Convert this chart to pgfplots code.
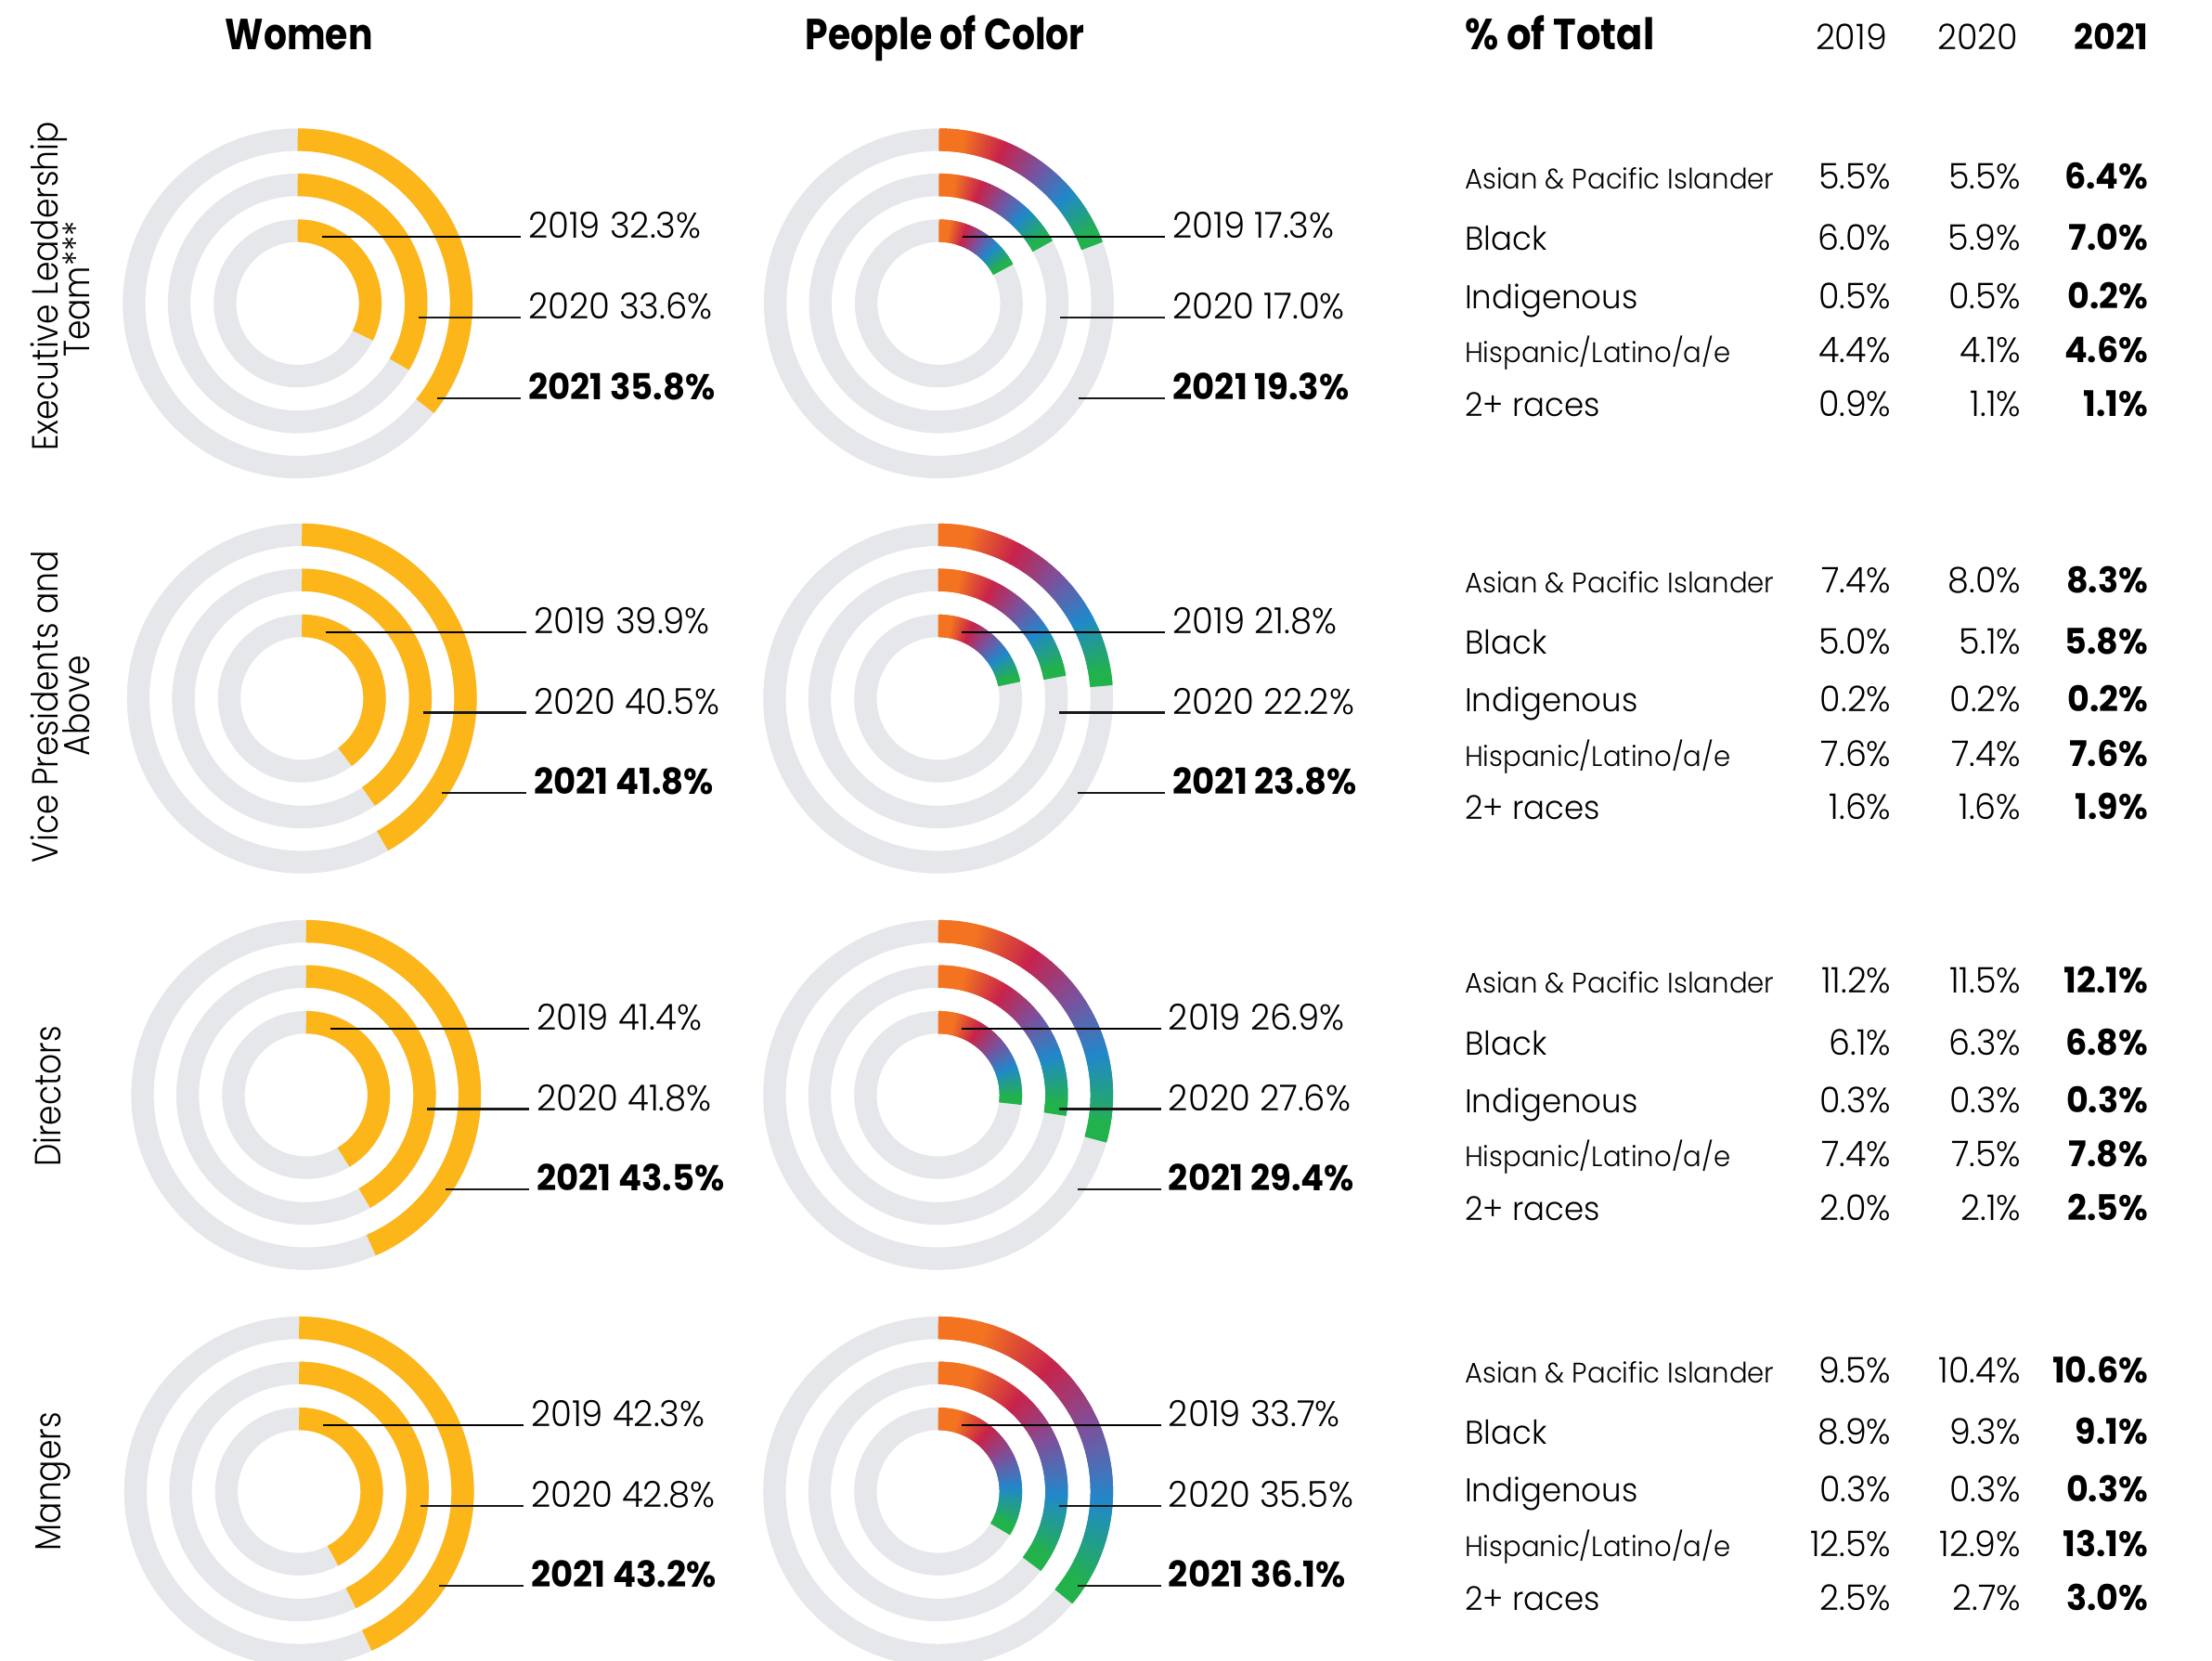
\documentclass[border=0pt]{standalone}
\usepackage{pgfplots}
\pgfplotsset{compat=1.18}
\usepackage{pgfplotstable}
\usepgfplotslibrary{polar}
\usepackage{fontspec}
\IfFontExistsTF{Poppins Light}{\def\upfont{Poppins Light}}{\def\upfont{Poppins}}
\IfFontExistsTF{Poppins Bold}{\def\bffont{Poppins Bold}}{\def\bffont{Poppins SemiBold}}
\edef\x{\noexpand\setmainfont{Poppins}[UprightFont={\upfont}, BoldFont={\bffont}, ItalicFont={\upfont}, BoldItalicFont={\bffont}, FakeStretch=0.96]}\x
\edef\x{\noexpand\newfontfamily\noexpand\headfam{Poppins}[UprightFont={\upfont}, BoldFont={\bffont}, ItalicFont={\upfont}, BoldItalicFont={\bffont}, FakeStretch=0.84]}\x
\edef\x{\noexpand\newfontfamily\noexpand\rowfam{Poppins}[UprightFont={\upfont}, BoldFont={\bffont}, ItalicFont={\upfont}, BoldItalicFont={\bffont}, FakeStretch=0.88]}\x

\definecolor{ringgray}{HTML}{E6E7EA}
\definecolor{wyellow}{HTML}{FCB61A}
\definecolor{porange}{HTML}{F37321}
\definecolor{pred}{HTML}{C8234B}
\definecolor{ppurple}{HTML}{7A529E}
\definecolor{pblue}{HTML}{2188CB}
\definecolor{pgreen}{HTML}{22B24C}

\pgfplotsset{
  colormap={poc}{color(0pt)=(pgreen) color(5pt)=(pgreen) color(28pt)=(pblue) color(48pt)=(ppurple) color(68pt)=(pred) color(88pt)=(porange) color(100pt)=(porange)},
  donut/.style={hide axis, scale only axis, width=130pt, height=130pt,
    ymin=0, ymax=130, xmin=0, xmax=360, clip=false, anchor=center},
  ringbg/.style={line width=8pt, color=ringgray, samples=181, no markers},
}

% percentages shown in the rings
\pgfplotstableread{
level w2019 w2020 w2021 p2019 p2020 p2021
ELT   32.3  33.6  35.8  17.3  17.0  19.3
VP    39.9  40.5  41.8  21.8  22.2  23.8
DIR   41.4  41.8  43.5  26.9  27.6  29.4
MGR   42.3  42.8  43.2  33.7  35.5  36.1
}\ringdata

% #1 radius, #2 value
\newcommand\womenring[2]{%
  \addplot[ringbg, domain=-270:90] {#1};
  \addplot[line width=8pt, color=wyellow, samples=90, no markers, domain={90-3.6*#2}:90] {#1};}
% gradient ring: a colour mesh, drawn twice with the joints shifted by half a step
\newcommand\pocring[2]{%
  \addplot[ringbg, domain=-270:90] {#1};
  \addplot[mesh, line width=8pt, samples=90, no markers, point meta=x, point meta rel=per plot,
     colormap name=poc, domain={90-3.6*#2}:90] {#1};
  \addplot[mesh, line width=8pt, samples=89, no markers, point meta=x, point meta rel=per plot,
     colormap name=poc, domain={90-3.6*#2+1.8*#2/89}:{90-1.8*#2/89}] {#1};}

% #1 radius, #2 column, #3 row
\newcommand\drawring[3]{%
  \pgfplotstablegetelem{#3}{#2}\of\ringdata
  \edef\tmp{\noexpand\ringcmd{#1}{\pgfplotsretval}}\tmp}

\newcommand\flbl{\fontsize{12.7}{15}\selectfont}
\newcommand\fhead{\headfam\fontsize{15.4}{18}\selectfont\bfseries}
\newcommand\fval{\fontsize{12.5}{14}\selectfont}
\newcommand\fname{\fontsize{11.65}{13}\selectfont}
\newcommand\fsmall{\fontsize{10}{12}\selectfont}
\newcommand\frow{\rowfam\fontsize{12.9}{11}\selectfont}

% #1 name, #2 cx, #3 cy, #4 label x, #5 prefix, #6 row
\newcommand\donut[6]{%
  \coordinate (#1) at (#2,#3);
  \begin{polaraxis}[donut, at={(#1)}]
    \drawring{51.5}{#52019}{#6}
    \drawring{84}{#52020}{#6}
    \drawring{116}{#52021}{#6}
  \end{polaraxis}
  \draw[line width=0.7pt, black] (#2+17,#3-47) -- (#4-5,#3-47);
  \draw[line width=0.7pt, black!90] (#2+86,#3+10) -- (#4-5,#3+10);
  \draw[line width=0.7pt, black!90] (#2+99,#3+67) -- (#4-5,#3+67);
  \pgfplotstablegetelem{#6}{#52019}\of\ringdata
  \node[anchor=base west, inner sep=0, font=\flbl] at (#4,#3-46) {2019 \pgfplotsretval\%};
  \pgfplotstablegetelem{#6}{#52020}\of\ringdata
  \node[anchor=base west, inner sep=0, font=\flbl] at (#4,#3+11) {2020 \pgfplotsretval\%};
  \pgfplotstablegetelem{#6}{#52021}\of\ringdata
  \node[anchor=base west, inner sep=0, font=\flbl] at (#4,#3+68) {\textbf{2021 \pgfplotsretval\%}};
}

% #1 y, #2 name font, #3 name, #4 #5 #6 values
\newcommand\trow[6]{%
  \node[anchor=base west, inner sep=0, font=#2] at (1038,#1+8) {#3};
  \node[anchor=base east, inner sep=0, font=\fval] at (1341,#1+8) {#4\%};
  \node[anchor=base east, inner sep=0, font=\fval] at (1433,#1+8) {#5\%};
  \node[anchor=base east, inner sep=0, font=\fval] at (1523,#1+8) {\textbf{#6\%}};
}

\begin{document}
\begin{tikzpicture}[x=0.5pt, y=-0.5pt]
\path (0,0) rectangle (1568,1177);

% headers
\node[anchor=base, inner sep=0, font=\fhead] at (212,35.5) {Women};
\node[anchor=base, inner sep=0, font=\fhead] at (670,35.5) {People of Color};
\node[anchor=base west, inner sep=0, font=\fhead, xscale=1.06] at (1038,35.5) {\% of Total};
\node[anchor=base east, inner sep=0, font=\fval] at (1338,35.5) {2019};
\node[anchor=base east, inner sep=0, font=\fval] at (1431,35.5) {2020};
\node[anchor=base east, inner sep=0, font=\fval] at (1523,35.5) {\textbf{2021}};

% row labels
\node[rotate=90, anchor=base, inner sep=0, font=\frow] at (41,203) {Executive Leadership};
\node[rotate=90, anchor=base, inner sep=0, font=\frow] at (63.5,205) {Team***};
\node[rotate=90, anchor=base, inner sep=0, font=\frow] at (41,501) {Vice Presidents and};
\node[rotate=90, anchor=base, inner sep=0, font=\frow] at (63.5,500) {Above};
\node[rotate=90, anchor=base, inner sep=0, font=\frow] at (43,777) {Directors};
\node[rotate=90, anchor=base, inner sep=0, font=\frow] at (43,1050) {Mangers};

% donuts
\let\ringcmd\womenring
\donut{w1}{211}{215}{374}{w}{0}
\donut{w2}{214}{495}{378}{w}{1}
\donut{w3}{217}{776}{380}{w}{2}
\donut{w4}{212}{1057}{376}{w}{3}
\let\ringcmd\pocring
\donut{p1}{665.5}{215}{831}{p}{0}
\donut{p2}{665}{495}{831}{p}{1}
\donut{p3}{665}{776}{828}{p}{2}
\donut{p4}{665}{1057}{828}{p}{3}

% table
\trow{126}{\fsmall}{Asian \& Pacific Islander}{5.5}{5.5}{6.4}
\trow{169.5}{\fname}{Black}{6.0}{5.9}{7.0}
\trow{210.5}{\fname}{Indigenous}{0.5}{0.5}{0.2}
\trow{249}{\fsmall}{Hispanic/Latino/a/e}{4.4}{4.1}{4.6}
\trow{287}{\fname}{2+ races}{0.9}{1.1}{1.1}

\trow{412}{\fsmall}{Asian \& Pacific Islander}{7.4}{8.0}{8.3}
\trow{455.5}{\fname}{Black}{5.0}{5.1}{5.8}
\trow{496.5}{\fname}{Indigenous}{0.2}{0.2}{0.2}
\trow{535}{\fsmall}{Hispanic/Latino/a/e}{7.6}{7.4}{7.6}
\trow{573}{\fname}{2+ races}{1.6}{1.6}{1.9}

\trow{696}{\fsmall}{Asian \& Pacific Islander}{11.2}{11.5}{12.1}
\trow{739.5}{\fname}{Black}{6.1}{6.3}{6.8}
\trow{780.5}{\fname}{Indigenous}{0.3}{0.3}{0.3}
\trow{819}{\fsmall}{Hispanic/Latino/a/e}{7.4}{7.5}{7.8}
\trow{857}{\fname}{2+ races}{2.0}{2.1}{2.5}

\trow{972}{\fsmall}{Asian \& Pacific Islander}{9.5}{10.4}{10.6}
\trow{1015.5}{\fname}{Black}{8.9}{9.3}{9.1}
\trow{1056.5}{\fname}{Indigenous}{0.3}{0.3}{0.3}
\trow{1095}{\fsmall}{Hispanic/Latino/a/e}{12.5}{12.9}{13.1}
\trow{1133}{\fname}{2+ races}{2.5}{2.7}{3.0}

\pgfresetboundingbox
\path (0,0) rectangle (1568,1177);
\end{tikzpicture}
\end{document}
